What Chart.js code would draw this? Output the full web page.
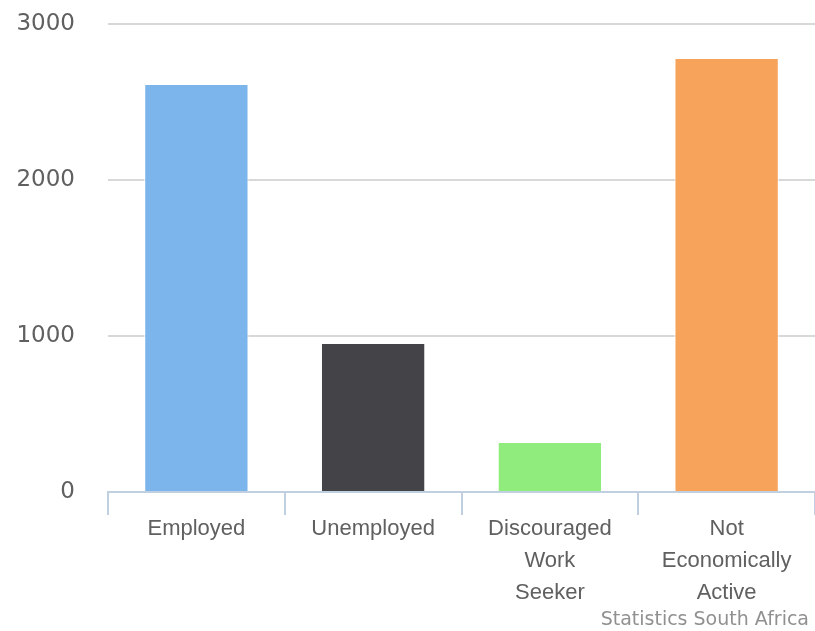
<!DOCTYPE html>
<html>
<head>
<meta charset="utf-8">
<script src="https://cdn.jsdelivr.net/npm/chart.js@4"></script>
<style>
  html, body { margin: 0; padding: 0; background: #fff; }
  #wrap { width: 815px; height: 631px; position: relative; }
</style>
</head>
<body>
<div id="wrap"><canvas id="labour-chart"></canvas></div>
<script>
var categories = ["Employed", "Unemployed", ["Discouraged", "Work", "Seeker"], ["Not", "Economically", "Active"]];
var values = [2615, 955, 320, 2782];
var barColors = ["#7CB5EC", "#434348", "#90ED7D", "#F7A35C"];
var yTicks = [0, 1000, 2000, 3000];
var credits = "Statistics South Africa";

// draws the little credit line in the bottom right corner
var creditsPlugin = {
    id: 'credits',
    afterDraw: function(chart) {
        var ctx = chart.ctx;
        ctx.save();
        ctx.font = '19px "DejaVu Sans"';
        ctx.fillStyle = "#909090";
        ctx.textAlign = "right";
        ctx.textBaseline = "alphabetic";
        ctx.fillText(credits, chart.width - 6, 625);
        ctx.restore();
    }
};

var ctx = document.getElementById("labour-chart");
var labourChart = new Chart(ctx, {
    type: 'bar',
    data: {
        labels: categories,
        datasets: [{
            data: values,
            backgroundColor: barColors,
            borderColor: "#ffffff",
            borderWidth: 1,
            categoryPercentage: 1,
            barPercentage: 0.59
        }]
    },
    options: {
        responsive: true,
        maintainAspectRatio: false,
        animation: false,
        layout: { padding: { top: 24, right: 0, bottom: 0, left: 0 } },
        plugins: {
            legend: { display: false },
            tooltip: { enabled: false }
        },
        scales: {
            x: {
                border: { color: "#C0D0E0", width: 2 },
                grid: {
                    display: true,
                    drawOnChartArea: false,
                    color: "#C0D0E0",
                    lineWidth: 2,
                    tickLength: 23
                },
                ticks: {
                    color: "#606060",
                    padding: -2,
                    maxRotation: 0,
                    autoSkip: false,
                    font: { family: "'Liberation Sans'", size: 22, lineHeight: 1.45 }
                },
                afterFit: function(scale) {
                    scale.height = 139;
                    scale.paddingLeft = 0;
                    scale.paddingRight = 0;
                }
            },
            y: {
                min: 0,
                max: 3000,
                border: { display: false },
                grid: { color: "#D8D8D8", lineWidth: 2, drawTicks: false },
                afterBuildTicks: function(scale) {
                    scale.ticks = yTicks.map(function(v) { return { value: v }; });
                },
                ticks: {
                    color: "#606060",
                    padding: 33,
                    font: { family: "'DejaVu Sans'", size: 23 },
                    callback: function(v) { return String(v); }
                },
                afterFit: function(scale) {
                    scale.width = 108;
                    scale.paddingTop = 0;
                    scale.paddingBottom = 0;
                }
            }
        }
    },
    plugins: [creditsPlugin]
});
</script>
</body>
</html>
